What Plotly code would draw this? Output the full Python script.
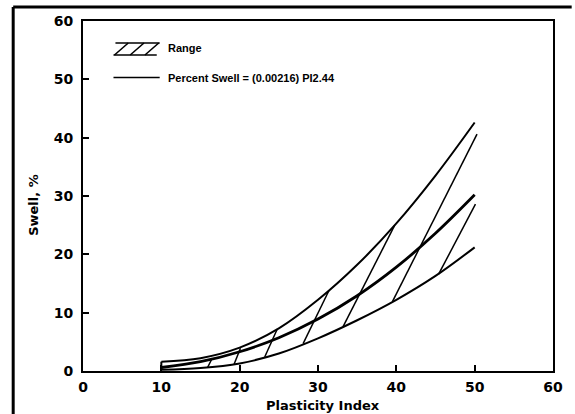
import plotly.graph_objects as go

# ---- data ----
pi_values = [10, 15, 20, 25, 30, 35, 40, 45, 50]
swell_upper = [1.6, 2.2, 4.0, 7.3, 12.2, 18.2, 25.3, 33.5, 42.6]
swell_mean = [0.6, 1.6, 3.3, 5.7, 8.9, 12.9, 17.8, 23.6, 30.2]
swell_lower = [0.2, 0.5, 1.3, 3.0, 5.6, 8.7, 12.2, 16.3, 21.2]

# hatch lines of the "Range" band (lower end -> upper end)
hatch_x0 = [15.9, 19.3, 23.2, 28.1, 33.2, 39.5, 45.4]
hatch_y0 = [0.6, 1.2, 2.4, 4.7, 7.6, 11.9, 16.6]
hatch_x1 = [16.5, 20.1, 24.8, 31.4, 39.8, 50.3, 50.1]
hatch_y1 = [2.2, 3.9, 7.2, 13.8, 25.0, 40.6, 28.6]

x_ticks = [0, 10, 20, 30, 40, 50, 60]
y_ticks = [0, 10, 20, 30, 40, 50, 60]

legend_range = "Range"
legend_eq = "Percent Swell = (0.00216) PI2.44"
x_title = "Plasticity Index"
y_title = "Swell, %"

# ---- figure ----
fig = go.Figure()

hx, hy = [], []
for a, b, c, d in zip(hatch_x0, hatch_y0, hatch_x1, hatch_y1):
    hx += [a, c, None]
    hy += [b, d, None]
fig.add_trace(go.Scatter(x=hx, y=hy, mode="lines",
                         line=dict(color="black", width=1.5), hoverinfo="skip"))

fig.add_trace(go.Scatter(x=pi_values, y=swell_upper, mode="lines",
                         line=dict(color="black", width=2, shape="spline")))
fig.add_trace(go.Scatter(x=pi_values, y=swell_lower, mode="lines",
                         line=dict(color="black", width=2, shape="spline")))
fig.add_trace(go.Scatter(x=pi_values, y=swell_mean, mode="lines",
                         line=dict(color="black", width=2.8, shape="spline")))
# closing edge at the left end of the band
fig.add_trace(go.Scatter(x=[pi_values[0], pi_values[0]],
                         y=[swell_lower[0], swell_upper[0]], mode="lines",
                         line=dict(color="black", width=2)))

# map pixel positions to paper coords (plot area x 83..561, y 21..371)
def px(x):
    return (x - 83) / 478.0

def py(y):
    return (371 - y) / 350.0

shapes = []
# outer frame (top and left visible)
shapes.append(dict(type="line", xref="paper", yref="paper", x0=px(12), x1=px(580),
                   y0=py(7), y1=py(7), line=dict(color="black", width=3)))
shapes.append(dict(type="line", xref="paper", yref="paper", x0=px(12), x1=px(12),
                   y0=py(7), y1=py(420), line=dict(color="black", width=3)))
# legend hatch symbol
shapes.append(dict(type="line", xref="paper", yref="paper", x0=px(116), x1=px(161),
                   y0=py(43), y1=py(43), line=dict(color="black", width=1.6)))
shapes.append(dict(type="line", xref="paper", yref="paper", x0=px(114), x1=px(158),
                   y0=py(55), y1=py(55), line=dict(color="black", width=1.6)))
for b0, t0 in [(115, 129), (131, 145), (146, 160)]:
    shapes.append(dict(type="line", xref="paper", yref="paper", x0=px(b0), x1=px(t0),
                       y0=py(55), y1=py(43), line=dict(color="black", width=1.6)))
# legend line symbol
shapes.append(dict(type="line", xref="paper", yref="paper", x0=px(114), x1=px(161),
                   y0=py(77.5), y1=py(77.5), line=dict(color="black", width=1.6)))

lab_font = dict(family="Liberation Sans, Arial", size=11, color="black", weight="bold")
title_font = dict(family="DejaVu Sans", size=13, color="black", weight="bold")
annotations = [
    dict(xref="paper", yref="paper", x=px(167), y=py(48), text=legend_range,
         showarrow=False, xanchor="left", yanchor="middle", font=lab_font),
    dict(xref="paper", yref="paper", x=px(167), y=py(77.5), text=legend_eq,
         showarrow=False, xanchor="left", yanchor="middle", font=lab_font),
    dict(xref="paper", yref="paper", x=px(327), y=py(405), text=x_title,
         showarrow=False, xanchor="center", yanchor="middle", font=title_font),
    dict(xref="paper", yref="paper", x=px(32), y=py(205), text=y_title, textangle=-90,
         showarrow=False, xanchor="center", yanchor="middle", font=title_font),
]

tick_font = dict(family="DejaVu Sans", size=14, color="black", weight="bold")
axis_common = dict(showgrid=False, zeroline=False, showline=True, mirror=True,
                   linecolor="black", linewidth=2, ticks="inside", ticklen=6,
                   tickwidth=2, tickcolor="black", tickfont=tick_font)

fig.update_layout(
    width=575, height=414,
    margin=dict(l=83, r=14, t=21, b=43),
    paper_bgcolor="white", plot_bgcolor="white",
    showlegend=False,
    xaxis=dict(range=[0, 60], tickvals=x_ticks, ticklabelstandoff=2, **axis_common),
    yaxis=dict(range=[0, 60], tickvals=y_ticks, ticklabelstandoff=5, **axis_common),
    shapes=shapes,
    annotations=annotations,
)

fig.write_html("out.html")
